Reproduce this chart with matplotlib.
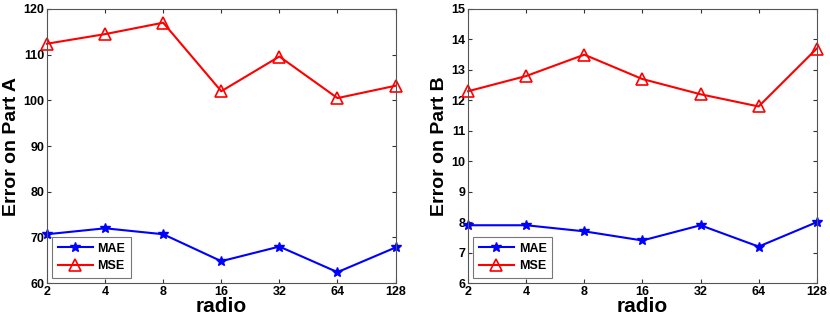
import numpy as np
import matplotlib.pyplot as plt

plt.rcParams['font.family'] = ['Liberation Sans', 'DejaVu Sans']
plt.rcParams['font.weight'] = 'bold'

radio = ['2', '4', '8', '16', '32', '64', '128']
mae_a = [70.7, 72.0, 70.7, 64.8, 68.0, 62.4, 67.8]
mse_a = [112.4, 114.5, 117.0, 102.0, 109.6, 100.5, 103.2]
mae_b = [7.9, 7.9, 7.7, 7.4, 7.9, 7.2, 8.0]
mse_b = [12.3, 12.8, 13.5, 12.7, 12.2, 11.8, 13.7]

fig = plt.figure(figsize=(8.3, 3.21), dpi=100)
ax1 = fig.add_axes([0.0566, 0.118, 0.420, 0.854])
ax2 = fig.add_axes([0.564, 0.118, 0.420, 0.854])

x = np.arange(len(radio))

def draw(ax, mae, mse, ylim, yticks, ylabel):
    ax.plot(x, mae, color='blue', marker='*', markersize=7, linewidth=1.5,
            label='MAE', clip_on=False)
    ax.plot(x, mse, color='red', marker='^', markersize=8, markerfacecolor='none',
            markeredgewidth=1.2, linewidth=1.5, label='MSE', clip_on=False)
    ax.set_xlim(0, len(radio) - 1)
    ax.set_ylim(*ylim)
    ax.set_xticks(x)
    ax.set_xticklabels(radio)
    ax.set_yticks(yticks)
    ax.tick_params(direction='in', top=True, right=True, labelsize=9, length=3,
                   color='#333333', pad=2)
    for s in ax.spines.values():
        s.set_color('#555555')
        s.set_linewidth(0.8)
    ax.set_xlabel('radio', fontsize=15, fontweight='bold', labelpad=-1)
    ax.set_ylabel(ylabel, fontsize=14, fontweight='bold', labelpad=2)
    leg = ax.legend(loc='lower left', fontsize=9, frameon=True, fancybox=False,
                    borderaxespad=0.4, handlelength=2.8, labelspacing=0.45,
                    borderpad=0.45, handletextpad=0.4)
    leg.get_frame().set_edgecolor('#555555')
    leg.get_frame().set_linewidth(0.8)
    for t in leg.get_texts():
        t.set_fontweight('bold')

draw(ax1, mae_a, mse_a, (60, 120), range(60, 121, 10), 'Error on Part A')
draw(ax2, mae_b, mse_b, (6, 15), range(6, 16), 'Error on Part B')

fig.savefig('out.png', dpi=100)
